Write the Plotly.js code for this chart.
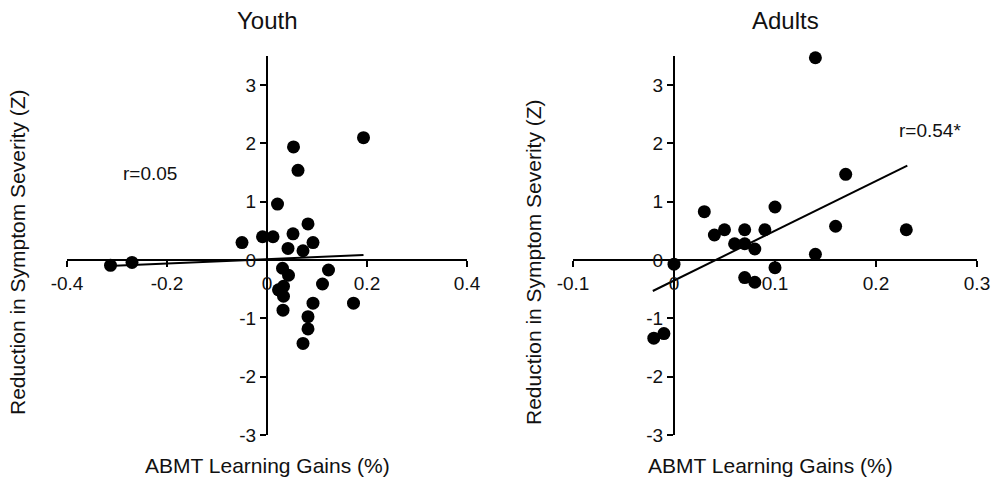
<!DOCTYPE html>
<html>
<head>
<meta charset="utf-8">
<script src="https://cdn.plot.ly/plotly-3.0.1.min.js"></script>
<style>html,body{margin:0;padding:0;background:#fff;}#chart{width:1003px;height:478px;}</style>
</head>
<body>
<div id="chart"></div>
<script>
// ---- Data ----
const panelTitles = ["Youth", "Adults"];
const xAxisLabel = "ABMT Learning Gains (%)";
const yAxisLabel = "Reduction in Symptom Severity (Z)";

const youthX = [-0.313, -0.270, -0.050, -0.009, 0.012, 0.021, 0.053, 0.062, 0.052, 0.042, 0.072, 0.082, 0.092, 0.193,
                0.031, 0.043, 0.123, 0.111, 0.023, 0.033, 0.033, 0.032, 0.092, 0.173, 0.082, 0.082, 0.072];
const youthY = [-0.09, -0.04, 0.30, 0.40, 0.40, 0.96, 1.94, 1.54, 0.45, 0.20, 0.16, 0.62, 0.30, 2.10,
                -0.14, -0.26, -0.17, -0.41, -0.51, -0.45, -0.62, -0.86, -0.74, -0.74, -0.97, -1.18, -1.43];
const youthFitX = [-0.317, 0.193];
const youthFitY = [-0.10, 0.086];
const youthR = "r=0.05";

const adultX = [0.14, 0.17, 0.23, 0.16, 0.14, 0.10, 0.10, 0.03, 0.04, 0.05, 0.06, 0.07, 0.07, 0.08, 0.09,
                0.07, 0.08, 0.0, -0.02, -0.01];
const adultY = [3.47, 1.47, 0.52, 0.58, 0.10, 0.91, -0.13, 0.83, 0.43, 0.52, 0.28, 0.52, 0.28, 0.19, 0.52,
                -0.30, -0.38, -0.07, -1.34, -1.26];
const adultFitX = [-0.021, 0.231];
const adultFitY = [-0.53, 1.62];
const adultR = "r=0.54*";

const youthTicksX = [-0.4, -0.2, 0, 0.2, 0.4];
const youthTickTextX = ["-0.4", "-0.2", "0", "0.2", "0.4"];
const adultTicksX = [-0.1, 0, 0.1, 0.2, 0.3];
const adultTickTextX = ["-0.1", "0", "0.1", "0.2", "0.3"];
const ticksY = [-3, -2, -1, 0, 1, 2, 3];
const tickTextY = ["-3", "-2", "-1", "0", "1", "2", "3"];

// ---- Layout helpers ----
const W = 1003, H = 478;
const M = {l: 67, r: 26, t: 56, b: 43};
const PW = W - M.l - M.r, PH = H - M.t - M.b;
const px = x => (x - M.l) / PW;
const py = y => (H - M.b - y) / PH;

const FONT = "Liberation Sans, Arial, sans-serif";
const yRange = [-3, 3.5];
const xPosY = (0 - yRange[0]) / (yRange[1] - yRange[0]);
const dom1 = [0, px(467)];
const dom2 = [px(573), 1];
const r1 = [-0.4, 0.4], r2 = [-0.1, 0.3];
const yPos1 = dom1[0] + (0 - r1[0]) / (r1[1] - r1[0]) * (dom1[1] - dom1[0]);
const yPos2 = dom2[0] + (0 - r2[0]) / (r2[1] - r2[0]) * (dom2[1] - dom2[0]);

const marker = {color: "#000", size: 13};
const traces = [
  {x: youthX, y: youthY, type: "scatter", mode: "markers", marker: marker, xaxis: "x", yaxis: "y", cliponaxis: false},
  {x: youthFitX, y: youthFitY, type: "scatter", mode: "lines", line: {color: "#000", width: 2}, xaxis: "x", yaxis: "y"},
  {x: adultX, y: adultY, type: "scatter", mode: "markers", marker: marker, xaxis: "x2", yaxis: "y2", cliponaxis: false},
  {x: adultFitX, y: adultFitY, type: "scatter", mode: "lines", line: {color: "#000", width: 2}, xaxis: "x2", yaxis: "y2"}
];

const axBase = {
  showgrid: false, zeroline: false, showline: true, linecolor: "#000", linewidth: 2,
  ticks: "outside", ticklen: 6, tickwidth: 2, tickcolor: "#000",
  tickfont: {family: FONT, size: 19, color: "#111"}, fixedrange: true
};

const layout = {
  width: W, height: H, margin: M, showlegend: false,
  paper_bgcolor: "#fff", plot_bgcolor: "#fff",
  xaxis: Object.assign({}, axBase, {domain: dom1, range: r1, anchor: "free", position: xPosY,
    tickmode: "array", tickvals: youthTicksX, ticktext: youthTickTextX}),
  yaxis: Object.assign({}, axBase, {domain: [0, 1], range: yRange, anchor: "free", position: yPos1,
    tickmode: "array", tickvals: ticksY, ticktext: tickTextY}),
  xaxis2: Object.assign({}, axBase, {domain: dom2, range: r2, anchor: "free", position: xPosY,
    tickmode: "array", tickvals: adultTicksX, ticktext: adultTickTextX}),
  yaxis2: Object.assign({}, axBase, {domain: [0, 1], range: yRange, anchor: "free", position: yPos2,
    tickmode: "array", tickvals: ticksY, ticktext: tickTextY}),
  annotations: [
    {text: panelTitles[0], xref: "paper", yref: "paper", x: px(267), y: py(21), showarrow: false,
     xanchor: "center", yanchor: "middle", font: {family: FONT, size: 24, color: "#111"}},
    {text: panelTitles[1], xref: "paper", yref: "paper", x: px(785), y: py(21), showarrow: false,
     xanchor: "center", yanchor: "middle", font: {family: FONT, size: 24, color: "#111"}},
    {text: xAxisLabel, xref: "paper", yref: "paper", x: px(267), y: py(465), showarrow: false,
     xanchor: "center", yanchor: "middle", font: {family: FONT, size: 21, color: "#111"}},
    {text: xAxisLabel, xref: "paper", yref: "paper", x: px(770), y: py(465), showarrow: false,
     xanchor: "center", yanchor: "middle", font: {family: FONT, size: 21, color: "#111"}},
    {text: yAxisLabel, xref: "paper", yref: "paper", x: px(17), y: py(252), showarrow: false, textangle: -90,
     xanchor: "center", yanchor: "middle", font: {family: FONT, size: 21, color: "#111"}},
    {text: yAxisLabel, xref: "paper", yref: "paper", x: px(533), y: py(262), showarrow: false, textangle: -90,
     xanchor: "center", yanchor: "middle", font: {family: FONT, size: 21, color: "#111"}},
    {text: youthR, xref: "x", yref: "y", x: -0.235, y: 1.49, showarrow: false,
     xanchor: "center", yanchor: "middle", font: {family: FONT, size: 19, color: "#111"}},
    {text: adultR, xref: "x2", yref: "y2", x: 0.253, y: 2.22, showarrow: false,
     xanchor: "center", yanchor: "middle", font: {family: FONT, size: 19, color: "#111"}}
  ]
};

Plotly.newPlot("chart", traces, layout, {displayModeBar: false, staticPlot: true});
</script>
</body>
</html>
